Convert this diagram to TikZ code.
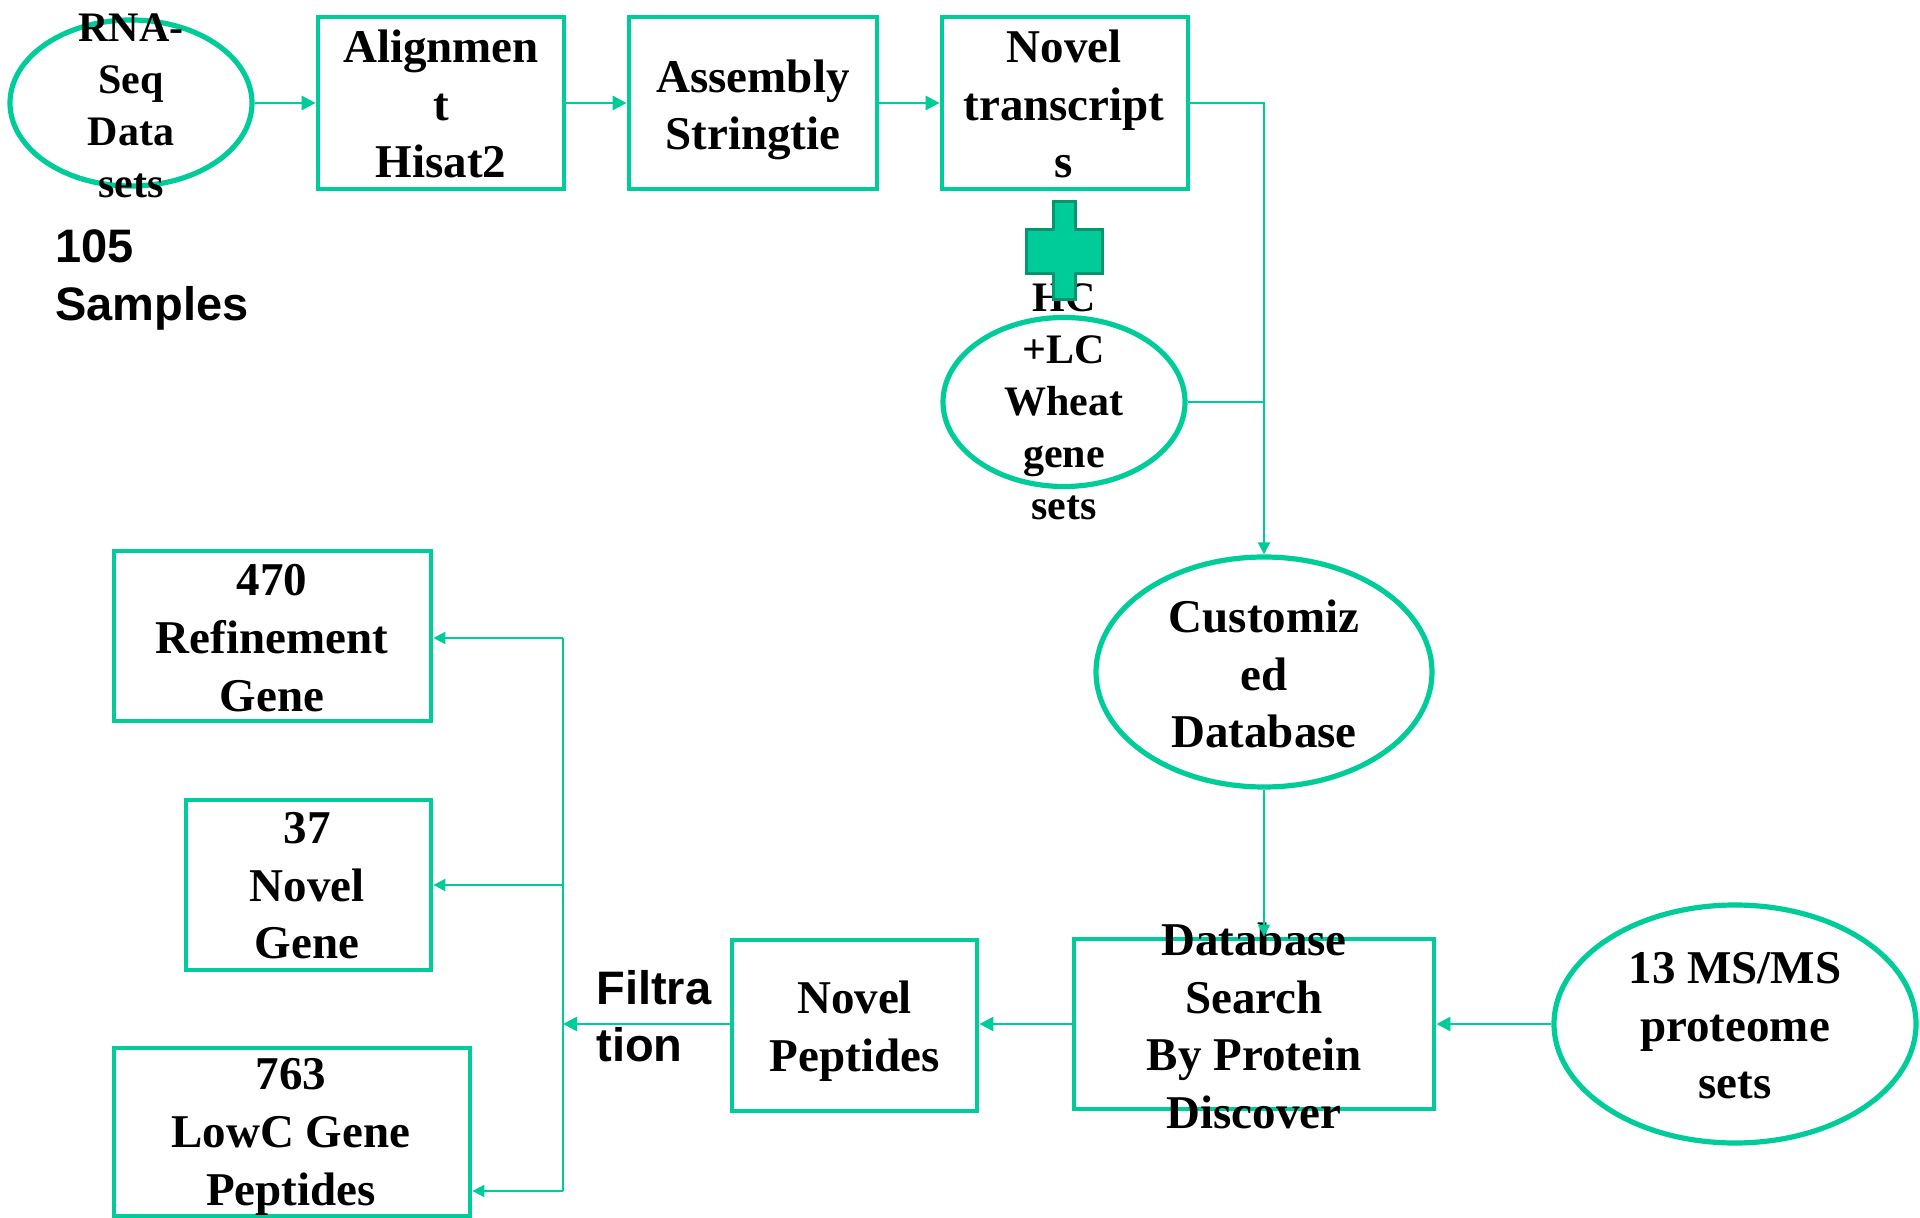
\documentclass[tikz,border=0pt]{standalone}
\usepackage{fontspec}
\setmainfont{Liberation Serif}
\setsansfont{Liberation Sans}
\usetikzlibrary{shapes.geometric,arrows.meta}
\definecolor{grn}{RGB}{0,204,153}
\definecolor{grndark}{RGB}{0,150,110}
\begin{document}
\begin{tikzpicture}[x=0.5pt,y=-0.5pt,
  boxshape/.style={draw=grn,line width=2.4pt,rectangle,inner sep=0pt},
  ellshape/.style={draw=grn,line width=2.6pt,ellipse,inner sep=0pt},
  bigtxt/.style={font=\fontsize{23.5}{28.8}\selectfont\bfseries,align=center,inner sep=0pt},
  smalltxt/.style={font=\fontsize{21}{26}\selectfont\bfseries,align=center,inner sep=0pt},
  sanstxt/.style={font=\sffamily\bfseries\fontsize{23.5}{28.8}\selectfont,align=left,inner sep=0pt,anchor=west},
  arr/.style={draw=grn,line width=1.4pt,-{Triangle[length=7pt,width=7pt]}},
  thinarr/.style={draw=grn,line width=1pt,-{Triangle[length=6pt,width=6pt]}},
  thinline/.style={draw=grn,line width=1pt}]
\useasboundingbox (0,0) rectangle (1920,1218);

% shapes
\node[ellshape,minimum width=121pt,minimum height=83pt] (rna) at (131,103) {};
\node[boxshape,minimum width=123pt,minimum height=86pt] (align) at (441,103) {};
\node[boxshape,minimum width=124pt,minimum height=86pt] (assem) at (753,103) {};
\node[boxshape,minimum width=123pt,minimum height=86pt] (novt) at (1065,103) {};
\node[ellshape,minimum width=121pt,minimum height=84.5pt] (wheat) at (1064,402) {};
\node[ellshape,minimum width=168pt,minimum height=115pt] (cust) at (1264,672) {};
\node[boxshape,minimum width=180pt,minimum height=85pt] (dbs) at (1254,1024) {};
\node[ellshape,minimum width=181pt,minimum height=119pt] (ms) at (1735,1024) {};
\node[boxshape,minimum width=122.5pt,minimum height=85.5pt] (novp) at (854.5,1025.5) {};
\node[boxshape,minimum width=158.5pt,minimum height=85pt] (r470) at (272.5,636) {};
\node[boxshape,minimum width=122.5pt,minimum height=85pt] (g37) at (308.5,885) {};
\node[boxshape,minimum width=178pt,minimum height=84pt] (g763) at (292,1132) {};

% texts
\node[smalltxt] (rnat) at (131,106) {RNA-\\Seq\\Data\\sets};
\node[bigtxt] (alignt) at (441,104) {Alignmen\\t\\Hisat2};
\node[bigtxt] (assemt) at (753,110) {Assembly\\Stringtie};
\node[bigtxt] (novtt) at (1064,104) {Novel\\transcript\\s};
\node[smalltxt] (wheatt) at (1064,402) {HC\\+LC\\Wheat\\gene\\sets};
\node[bigtxt] (custt) at (1264,674) {Customiz\\ed\\Database};
\node[bigtxt] (dbst) at (1254,1026) {Database\\Search\\By Protein\\Discover};
\node[bigtxt] (mst) at (1735,1026) {13 MS/MS\\proteome\\sets};
\node[bigtxt] (novpt) at (854.5,1031) {Novel\\Peptides};
\node[bigtxt] (r470t) at (272,638) {470\\Refinement\\Gene};
\node[bigtxt] (g37t) at (307,886) {37\\Novel\\Gene};
\node[bigtxt] (g763t) at (291,1137) {763\\LowC Gene\\Peptides};
\node[sanstxt] (samples) at (55,280) {105\\Samples};
\node[sanstxt] (filt) at (596,1016) {Filtra\\tion};

% plus sign
\draw[fill=grn,draw=grndark,line width=1.5pt] (1053,202) -- (1075,202) -- (1075,230) -- (1102,230) -- (1102,274) -- (1075,274) -- (1075,300) -- (1053,300) -- (1053,274) -- (1026,274) -- (1026,230) -- (1053,230) -- cycle;

% connectors
\draw[arr] (rna.east) -- (align.west);
\draw[arr] (align.east) -- (assem.west);
\draw[arr] (assem.east) -- (novt.west);
\draw[thinarr] (novt.east) -| (cust.north);
\draw[thinline] (wheat.east) -- (wheat.east -| cust.north);
\draw[thinarr] (cust.south) -- (cust.south |- dbs.north);
\draw[arr] (ms.west) -- (dbs.east);
\draw[arr] (dbs.west) -- (dbs.west -| novp.east);
\coordinate (split) at (563,1024);
\coordinate (top) at (563,638);
\coordinate (bot) at (563,1191);
\draw[arr] (dbs.west -| novp.west) -- (split);
\draw[thinline] (top) -- (bot);
\draw[thinarr] (top) -- (top -| r470.east);
\draw[thinarr] (g37.east -| split) -- (g37.east);
\draw[thinarr] (bot) -- (bot -| g763.east);
\end{tikzpicture}
\end{document}
